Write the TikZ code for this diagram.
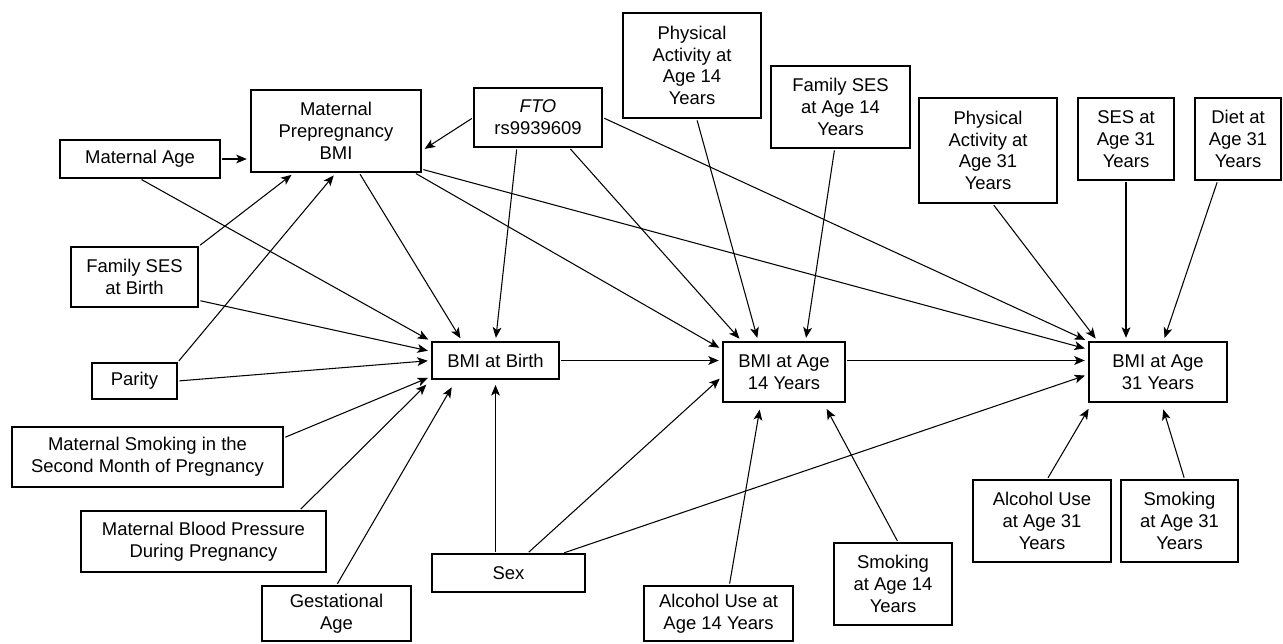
\documentclass[tikz,border=0pt]{standalone}
\usepackage{fontspec}
\setmainfont{Liberation Sans}
\usetikzlibrary{arrows.meta,positioning,calc}
\tikzset{
	box/.style={
		draw,
		line width=0.8pt,
		align=center,
		inner sep=0pt,
		font=\fontsize{10.5}{12.4}\selectfont,
	},
	flow/.style={
		-{Stealth[length=6pt,width=5pt,inset=1.5pt]},
		line width=0.6pt,
		shorten >=2pt,
		shorten <=1pt,
	}
}

\begin{document}
\begin{tikzpicture}[x=0.02cm, y=-0.02cm]
	\useasboundingbox (0,0) rectangle (1283,643);
	% --- Maternal and early factors ---
	\node[box, minimum width=3.2cm, minimum height=0.76cm] (matage) at (140,159) {Maternal Age};
	\node[box, minimum width=3.4cm, minimum height=1.64cm] (mpb) at (336,131) {Maternal\\Prepregnancy\\BMI};
	\node[box, minimum width=2.54cm, minimum height=1.2cm] (famsesb) at (134.5,277) {Family SES\\at Birth};
	\node[box, minimum width=1.7cm, minimum height=0.72cm] (parity) at (134.5,381) {Parity};
	\node[box, minimum width=5.42cm, minimum height=1.2cm] (matsmok) at (147.5,457) {Maternal Smoking in the\\Second Month of Pregnancy};
	\node[box, minimum width=4.9cm, minimum height=1.22cm] (matbp) at (203.5,541.5) {Maternal Blood Pressure\\During Pregnancy};
	\node[box, minimum width=2.98cm, minimum height=1.1cm] (gestage) at (336.5,613.5) {Gestational\\Age};
	\node[box, minimum width=2.56cm, minimum height=1.18cm] (fto) at (538,117.5) {\itshape FTO\\rs9939609};
	\node[box, minimum width=3.06cm, minimum height=0.76cm] (sex) at (508.5,573) {Sex};

	% --- Age 14 factors ---
	\node[box, minimum width=2.76cm, minimum height=2.1cm] (pa14) at (692,65.5) {Physical\\Activity at\\Age 14\\Years};
	\node[box, minimum width=2.78cm, minimum height=1.64cm] (famses14) at (840.5,107) {Family SES\\at Age 14\\Years};
	\node[box, minimum width=2.98cm, minimum height=1.1cm] (alc14) at (718.5,613.5) {Alcohol Use at\\Age 14 Years};
	\node[box, minimum width=2.36cm, minimum height=1.64cm] (smok14) at (893,584) {Smoking\\at Age 14\\Years};

	% --- Age 31 factors ---
	\node[box, minimum width=2.76cm, minimum height=2.1cm] (pa31) at (988,150.5) {Physical\\Activity at\\Age 31\\Years};
	\node[box, minimum width=1.92cm, minimum height=1.64cm] (ses31) at (1126,139) {SES at\\Age 31\\Years};
	\node[box, minimum width=1.72cm, minimum height=1.64cm] (diet31) at (1238,139) {Diet at\\Age 31\\Years};
	\node[box, minimum width=2.76cm, minimum height=1.64cm] (alc31) at (1042,521) {Alcohol Use\\at Age 31\\Years};
	\node[box, minimum width=2.34cm, minimum height=1.64cm] (smok31) at (1179.5,521) {Smoking\\at Age 31\\Years};

	% --- BMI outcomes ---
	\node[box, minimum width=2.54cm, minimum height=0.74cm] (bmib) at (495.5,360.5) {BMI at Birth};
	\node[box, minimum width=2.44cm, minimum height=1.2cm] (bmi14) at (784,372) {BMI at Age\\14 Years};
	\node[box, minimum width=2.76cm, minimum height=1.2cm] (bmi31) at (1158,372) {BMI at Age\\31 Years};

	% --- Flows into maternal BMI ---
	\draw[flow] (matage.east) -- (matage.east -| mpb.west);
	\draw[flow] (famsesb.north east) -- (mpb.225);
	\draw[flow] (parity.north east) -- (mpb.south);
	\draw[flow] (fto.west) -- (mpb.-13);

	% --- Flows into BMI at birth ---
	\draw[flow] (matage.south) -- (bmib.north west);
	\draw[flow] (famsesb.-20) -- (bmib.172);
	\draw[flow] (parity.east) -- (bmib.west);
	\draw[flow] (matsmok.8) -- (bmib.194);
	\draw[flow, shorten >=4pt] (matbp.18) -- (bmib.south west);
	\draw[flow, shorten >=5pt] (gestage.north) -- (bmib.206);
	\draw[flow] (mpb.-61) -- (bmib.150);
	\draw[flow] (fto.235) -- (bmib.north);
	\draw[flow, shorten >=3pt] (bmib.south |- sex.north) -- (bmib.south);

	% --- Flows into BMI at 14 ---
	\draw[flow] (bmib.east) -- (bmib.east -| bmi14.west);
	\draw[flow] (mpb.-28) -- (bmi14.160);
	\draw[flow] (fto.-44) -- (bmi14.144);
	\draw[flow] (pa14.-85) -- (bmi14.130);
	\draw[flow] (famses14.-98) -- (bmi14.55);
	\draw[flow] (sex.46) -- (bmi14.184);
	\draw[flow, shorten >=4pt] (alc14.69) -- (bmi14.-127);
	\draw[flow, shorten >=4pt] (smok14.83) -- (bmi14.-38);

	% --- Flows into BMI at 31 ---
	\draw[flow] (bmib.east -| bmi14.east) -- (bmib.east -| bmi31.west);
	\draw[flow] (mpb.-24) -- (bmi31.162);
	\draw[flow] (fto.east) -- (bmi31.north west);
	\draw[flow] (sex.20) -- (bmi31.182);
	\draw[flow] (pa31.-85) -- (bmi31.153);
	\draw[flow] (ses31.south) -- (ses31.south |- bmi31.north);
	\draw[flow] (diet31.-116) -- (bmi31.80);
	\draw[flow, shorten >=4pt] (alc31.83) -- (bmi31.-155);
	\draw[flow, shorten >=4pt] (smok31.83) -- (bmi31.-84);
\end{tikzpicture}
\end{document}
